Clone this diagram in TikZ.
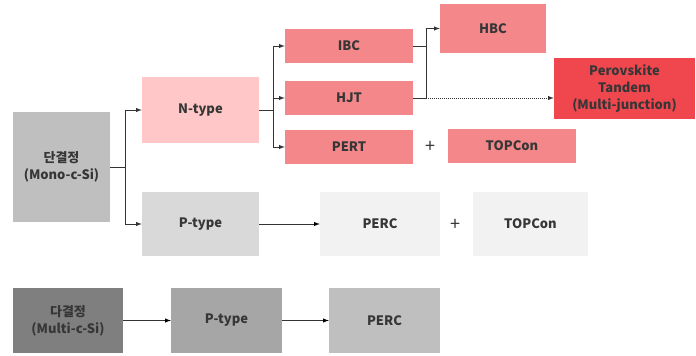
\documentclass[tikz,border=0pt]{standalone}
\usepackage{fontspec}
\setmainfont{Noto Sans CJK KR}
\usetikzlibrary{arrows}
\definecolor{txtgray}{HTML}{363636}
\definecolor{lnkgray}{HTML}{333333}
\definecolor{monogray}{HTML}{BFBFBF}
\definecolor{ntypepink}{HTML}{FFC7C7}
\definecolor{cellpink}{HTML}{F4878A}
\definecolor{tandemred}{HTML}{F0474F}
\definecolor{ptypegray}{HTML}{D9D9D9}
\definecolor{lightgray}{HTML}{F2F2F2}
\definecolor{multigray}{HTML}{7F7F7F}
\definecolor{pmultigray}{HTML}{A6A6A6}
\tikzset{cell/.style = {shape=rectangle,inner sep=0pt,align=center,text=txtgray,font=\bfseries\fontsize{13}{17}\selectfont}}
\tikzset{edge/.style = {->,> = latex,line width=1pt,draw=lnkgray}}
\tikzset{link/.style = {line width=1pt,draw=lnkgray}}

\begin{document}
\begin{tikzpicture}[x=1pt,y=-1pt]
      \useasboundingbox (0,0) rectangle (696,356);
      % monocrystalline branch
      \node[cell,fill=monogray,minimum width=97pt,minimum height=110pt] (mono) at (61.5,167) {단결정\\(Mono-c-Si)};
      \node[cell,fill=ntypepink,minimum width=117pt,minimum height=66pt] (ntype) at (200.5,110) {N-type};
      \node[cell,fill=cellpink,minimum width=128pt,minimum height=34pt] (ibc) at (349,46) {IBC};
      \node[cell,fill=cellpink,minimum width=128pt,minimum height=34pt] (hjt) at (349,98) {HJT};
      \node[cell,fill=cellpink,minimum width=128pt,minimum height=34pt] (pert) at (349,147) {PERT};
      \node[cell,fill=cellpink,minimum width=106pt,minimum height=49pt] (hbc) at (493,28.5) {HBC};
      \node[cell,fill=tandemred,minimum width=141pt,minimum height=61pt] (pero) at (624.5,88.5) {Perovskite\\Tandem\\(Multi-junction)};
      \node[cell,fill=cellpink,minimum width=128pt,minimum height=34pt] (topn) at (512,146) {TOPCon};
      \node[cell,font=\fontsize{18}{18}\selectfont] (plusn) at (430,147) {+};
      \node[cell,fill=ptypegray,minimum width=117pt,minimum height=64pt] (ptype) at (200.5,224) {P-type};
      \node[cell,fill=lightgray,minimum width=120pt,minimum height=64pt] (perc) at (380,224) {PERC};
      \node[cell,fill=lightgray,minimum width=115pt,minimum height=64pt] (topp) at (530.5,224) {TOPCon};
      \node[cell,font=\fontsize{18}{18}\selectfont] (plusp) at (455,225) {+};
      % multicrystalline branch
      \node[cell,fill=multigray,minimum width=110pt,minimum height=65pt] (multi) at (68,320.5) {다결정\\(Multi-c-Si)};
      \node[cell,fill=pmultigray,minimum width=111pt,minimum height=65pt] (pmulti) at (226.5,320.5) {P-type};
      \node[cell,fill=monogray,minimum width=111pt,minimum height=65pt] (pcmulti) at (384.5,320.5) {PERC};

      \coordinate (b1) at (125,167);
      \coordinate (b2) at (273,110);
      \coordinate (b3) at (426,98);

      \draw[link] (mono.east) -- (b1);
      \draw[edge] (b1) |- (ntype.west);
      \draw[edge] (b1) |- (ptype.west);
      \draw[link] (ntype.east) -- (b2);
      \draw[edge] (b2) |- (ibc.west);
      \draw[edge] (b2) |- (hjt.west);
      \draw[edge] (b2) |- (pert.west);
      \draw[link] (hjt.east) -- (b3);
      \draw[link] (ibc.east) -- (ibc.east -| b3);
      \draw[edge] (b3) |- (hbc.west);
      \draw[edge,densely dotted] (b3) -- (b3 -| pero.west);
      \path[edge] (ptype) edge (perc);
      \path[edge] (multi) edge (pmulti);
      \path[edge] (pmulti) edge (pcmulti);
    \end{tikzpicture}
\end{document}
